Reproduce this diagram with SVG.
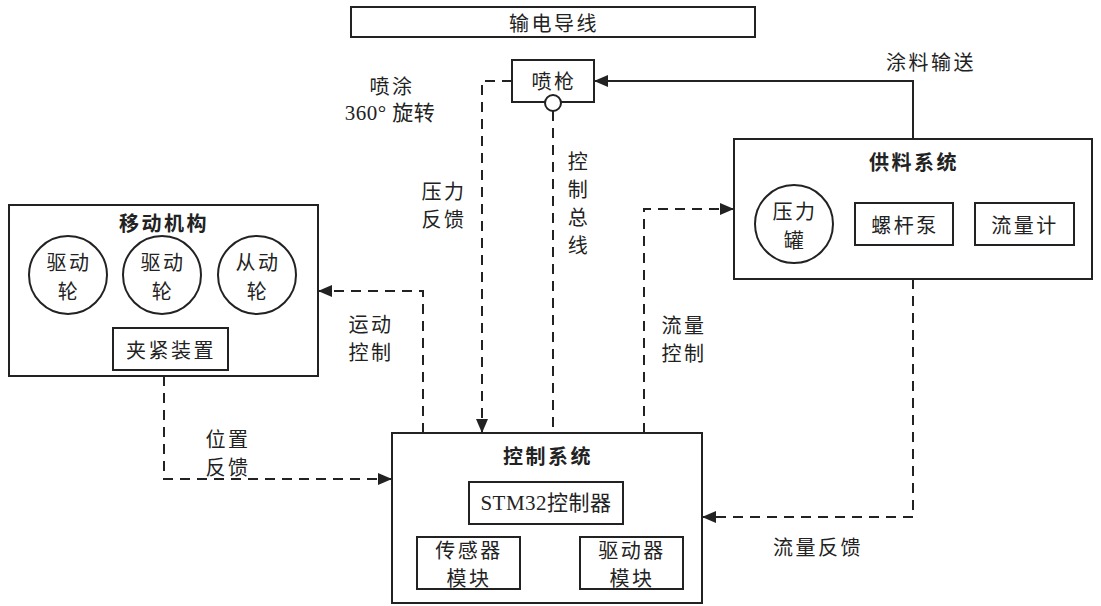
<svg xmlns="http://www.w3.org/2000/svg" width="1101" height="606" viewBox="0 0 1101 606">
<defs>
<style>
.box{fill:#fff;stroke:#222;stroke-width:2}
.t{font-family:"Noto Sans CJK SC","Noto Sans",sans-serif;font-size:20px;letter-spacing:2.5px;fill:#222;text-anchor:middle;dominant-baseline:central}
.b{font-weight:bold}
.lat{font-family:"Liberation Serif","Noto Sans CJK SC",serif;font-size:21px;letter-spacing:0.5px}
.ln{fill:none;stroke:#222;stroke-width:2}
.d{stroke-dasharray:10 7}
</style>
<marker id="ah" markerUnits="userSpaceOnUse" markerWidth="14" markerHeight="12" refX="14" refY="6" orient="auto">
<path d="M0,0 L14,6 L0,12 z" fill="#222"/>
</marker>
</defs>
<rect width="1101" height="606" fill="#fff"/>

<g id="connectors">
<path class="ln" d="M913,139 V81 H594" marker-end="url(#ah)"/>
<path class="ln d" d="M512,81 H482 V433" marker-end="url(#ah)"/>
<path class="ln d" d="M553,111 V433"/>
<path class="ln d" d="M423,433 V291 H318" marker-end="url(#ah)"/>
<path class="ln d" d="M644,433 V209 H734" marker-end="url(#ah)"/>
<path class="ln d" d="M913,279 V517 H702" marker-end="url(#ah)"/>
<path class="ln d" d="M164,376 V479 H392" marker-end="url(#ah)"/>
<text class="t" x="931" y="61">涂料输送</text>
<text class="t" x="392" y="85">喷涂</text>
<text class="t lat" x="390" y="113">360° 旋转</text>
<text class="t" x="444" y="190">压力</text>
<text class="t" x="444" y="218">反馈</text>
<text class="t" x="579" y="160">控</text>
<text class="t" x="579" y="188">制</text>
<text class="t" x="579" y="216">总</text>
<text class="t" x="579" y="244">线</text>
<text class="t" x="371" y="323">运动</text>
<text class="t" x="371" y="351">控制</text>
<text class="t" x="684" y="324">流量</text>
<text class="t" x="684" y="352">控制</text>
<text class="t" x="228" y="438">位置</text>
<text class="t" x="228" y="466">反馈</text>
<text class="t" x="818" y="546">流量反馈</text>
</g>

<g id="power-wire">
<rect class="box" x="351" y="7" width="404" height="30"/>
<text class="t" x="554" y="22">输电导线</text>
</g>

<g id="spray-gun">
<rect class="box" x="512" y="60" width="82" height="42"/>
<text class="t" x="554" y="80">喷枪</text>
<circle class="box" cx="553" cy="103" r="8"/>
</g>

<g id="mobile">
<rect class="box" x="9" y="205" width="309" height="171"/>
<text class="t b" x="164" y="222">移动机构</text>
<g id="wheel1"><circle class="box" cx="68" cy="275" r="39"/><text class="t" x="69" y="261">驱动</text><text class="t" x="69" y="290">轮</text></g>
<g id="wheel2"><circle class="box" cx="162" cy="275" r="39"/><text class="t" x="163" y="261">驱动</text><text class="t" x="163" y="290">轮</text></g>
<g id="wheel3"><circle class="box" cx="257" cy="275" r="39"/><text class="t" x="258" y="261">从动</text><text class="t" x="258" y="290">轮</text></g>
<g id="clamp"><rect class="box" x="113" y="328" width="115" height="42"/><text class="t" x="171" y="349">夹紧装置</text></g>
</g>

<g id="supply">
<rect class="box" x="734" y="139" width="358" height="140"/>
<text class="t b" x="914" y="161">供料系统</text>
<g id="tank"><circle class="box" cx="794" cy="224" r="39"/><text class="t" x="795" y="210">压力</text><text class="t" x="795" y="239">罐</text></g>
<g id="pump"><rect class="box" x="855" y="203" width="98" height="42"/><text class="t" x="905" y="224">螺杆泵</text></g>
<g id="meter"><rect class="box" x="975" y="203" width="99" height="42"/><text class="t" x="1025" y="224">流量计</text></g>
</g>

<g id="control">
<rect class="box" x="392" y="433" width="310" height="170"/>
<text class="t b" x="548" y="455">控制系统</text>
<g id="stm32"><rect class="box" x="469" y="482" width="154" height="42"/><text class="t lat" x="546" y="503">STM32控制器</text></g>
<g id="sensor"><rect class="box" x="417" y="537" width="103" height="52"/><text class="t" x="469" y="549">传感器</text><text class="t" x="469" y="577">模块</text></g>
<g id="driver"><rect class="box" x="580" y="537" width="103" height="52"/><text class="t" x="632" y="549">驱动器</text><text class="t" x="632" y="577">模块</text></g>
</g>
</svg>
